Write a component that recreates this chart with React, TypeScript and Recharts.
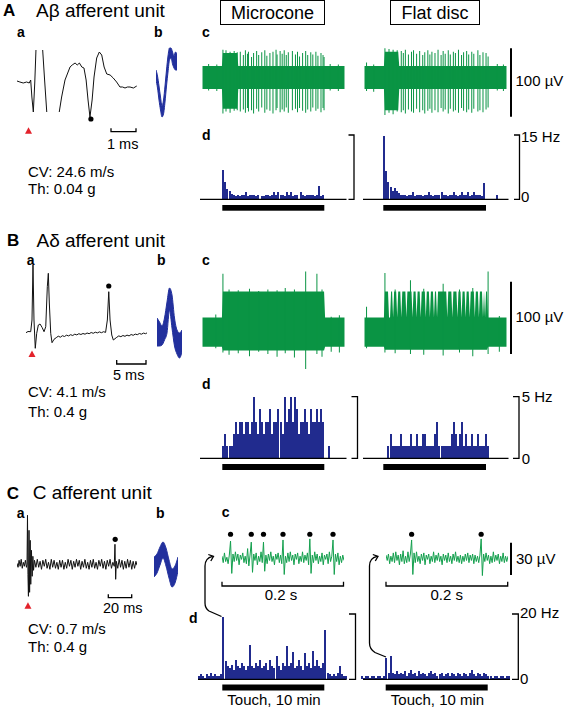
import React from 'react';
import { ComposedChart, BarChart, Bar, Line, Area, Scatter, XAxis, YAxis } from 'recharts';

const FONT = '"Liberation Sans", Arial, Helvetica, sans-serif';
const GREEN = '#0a9444';
const NAVY = '#212b8e';
const WAVE = '#22309d';
const RED = '#e3222b';
const NO_MARGIN = { top: 0, right: 0, bottom: 0, left: 0 };

// ---------- a: single evoked sweeps [time ms, amplitude a.u.]; null = trace leaves frame
const A_SWEEP: [number, number | null][] = [
  [0, 2], [0.12, 1], [0.26, 0], [0.4, 1], [0.51, 0], [0.57, 3], [0.62, -14], [0.68, -29],
  [0.74, 0], [0.79, 33], [0.85, null], [1.07, 33], [1.15, 3], [1.24, -29], [1.4, null],
  [1.76, -29], [1.86, -14], [2.0, 3], [2.21, 16], [2.3, 18], [2.42, 20], [2.51, 18], [2.6, 20],
  [2.7, 16], [2.79, 15], [2.88, 3], [2.96, -17], [3.04, -34], [3.13, -17], [3.21, 6], [3.32, 25],
  [3.43, 31], [3.53, 28], [3.63, 16], [3.74, 9], [3.88, 8], [4.01, 5], [4.15, 1], [4.29, -4],
  [4.4, -4], [4.5, -5], [4.6, -4], [4.71, -4], [4.85, -5], [4.99, -3],
];
const A_STIM: [number, number] = [0.48, -47.7];
const A_UNIT: [number, number] = [3.08, -36];

const B_SWEEP: [number, number | null][] = [
  [0, 0], [0.34, 1.2], [0.8, 1], [1.02, 12.7], [1.19, 67.7], [1.36, 12.7], [1.58, -15.6],
  [1.82, -0.6], [2.1, 7.7], [2.39, 8.7], [2.73, 5.4], [3.07, 1], [3.36, 6], [3.63, 46],
  [3.8, 59.4], [3.97, 29.7], [4.21, -0.6], [4.43, -10], [4.77, -6.6], [5.23, -4.6],
  [5.5, -3.5], [5.85, -4.5], [6.2, -3], [6.55, -3.8], [6.9, -2.5], [7.25, -3.2], [7.6, -2],
  [7.95, -2.8], [8.3, -1.5], [8.65, -2.2], [9.0, -1], [9.35, -1.8], [9.7, -0.8], [10.05, -1.5],
  [10.4, -0.3], [10.75, -1], [11.1, 0.2], [11.45, -0.6], [11.8, 0.5], [12.15, -0.2], [12.5, 0.8],
  [12.85, 0], [13.2, 1], [13.55, 0.3], [13.85, 12.7], [14.09, 41], [14.31, 12.7], [14.6, -2.3],
  [14.87, -7.3], [15.45, -4.6], [15.8, -3.2], [16.15, -4], [16.5, -2.8], [16.85, -3.6],
  [17.2, -2.4], [17.55, -3.2], [17.9, -1.8], [18.25, -2.6], [18.6, -1.4], [18.95, -2],
  [19.3, -0.8], [19.65, -1.5], [20.0, -0.4], [20.35, -1], [20.6, -0.2],
];
const B_STIM: [number, number] = [1.02, -21.3];
const B_UNIT: [number, number] = [14.09, 46.7];

const C_SWEEP: [number, number | null][] = [
  [0, 1], [0.9, -3], [1.8, 4], [2.7, -2], [3.6, 5], [4.5, -4], [5.4, 2], [6.3, -2], [7.2, 4],
  [8.1, -3], [8.6, 0], [9.0, 49], [9.4, -10], [9.8, -32], [10.3, 34], [10.8, -28], [11.3, 24],
  [11.8, -20], [12.4, 14], [13.0, -12], [13.6, 8], [14.2, -6], [15.0, 4], [16.2, -3], [17.4, 5],
  [18.6, -3], [19.8, 3], [21.0, -5], [22.2, 4], [23.4, -2], [24.6, 5], [25.8, -4], [27.0, 2],
  [28.2, -5], [29.4, 5], [30.6, -3], [31.8, 4], [33.0, -4], [34.2, 2], [35.4, -5], [36.6, 4],
  [37.8, -3], [39.0, 4], [40.2, -5], [41.4, 2], [42.6, -4], [43.8, 5], [45.0, -2], [46.2, 4],
  [47.4, -5], [48.6, 3], [49.8, -3], [51.0, 5], [52.2, -2], [53.4, 4], [54.6, -5], [55.8, 3],
  [57.0, -3], [58.2, 5], [59.4, -4], [60.6, 2], [61.8, -5], [63.0, 4], [64.2, -3], [65.4, 5],
  [66.6, -4], [67.8, 2], [69.0, -5], [70.2, 4], [71.4, -2], [72.6, 5], [73.8, -4], [75.0, 3],
  [76.2, -5], [77.4, 4], [78.6, -2], [79.8, 5], [81.0, -4], [82.2, 2], [83.4, -2], [84.0, 20],
  [84.6, -15], [85.2, 3], [86.4, -4], [87.6, 5], [88.8, -3], [90.0, 4], [91.2, -5], [92.4, 3],
  [93.6, -4], [94.8, 5], [96.0, -3], [97.2, 4], [98.4, -5], [99.6, 3], [100.8, -4], [102.0, 3],
  [102.9, -1],
];
const C_STIM: [number, number] = [9.4, -41.4];
const C_UNIT: [number, number] = [84.2, 25];

// ---------- b: overlaid unit waveforms [sample, low, high]
const A_WAVE: [number, number, number][] = [
  [0, 0, 10], [1, -8, 4], [2, -20, -6], [3, -30, -17], [4, -37, -26], [5, -34, -20], [6, -22, -6],
  [7, -6, 10], [8, 8, 24], [9, 20, 32], [10, 22, 32], [11, 16, 28], [12, 12, 24], [13, 10, 28],
  [14, 10, 26],
];
const B_WAVE: [number, number, number][] = [
  [0, -13.3, 14.7], [1, -13.3, 10.7], [2, -12.3, 6.7], [3, -7.3, 14.7], [4, -0.3, 30.7],
  [5, 22.7, 44.7], [6, 4.7, 37.7], [7, -13.3, 14.7], [8, -21.3, 2.7], [9, -25.3, -0.3],
  [10, -19.3, 2.7],
];
const C_WAVE: [number, number, number][] = [
  [0, -12.7, 7.3], [1, -8.7, 10.3], [2, -0.7, 17.3], [3, 6.3, 22.3], [4, -1.7, 16.3],
  [5, -13.7, 4.3], [6, -22.7, -4.7], [7, -18.7, -1.7], [8, -6.7, 7.3],
];

// ---------- c: raw recordings over 14 min (µV). band = [from, to, low, high], spike = [t, up, down]
const A_MICRO_BAND: [number, number, number, number][] = [[0, 2.0, -17, 17], [2.0, 3.5, -46, 36], [3.5, 14, -17, 17]];
const A_MICRO_SPIKES: [number, number, number][] = [
  [2.0, 41, -53], [2.3, 40, -50], [2.7, 38, -52], [3.1, 39, -49], [3.4, 37, -48], [3.7, 38, -50],
  [3.95, 33, -47], [4.2, 40, -52], [4.4, 35, -45], [4.55, 38, -50], [4.8, 30, -48], [5.05, 36, -53],
  [5.25, 39, -46], [5.5, 33, -50], [5.85, 37, -44], [6.1, 40, -52], [6.35, 32, -47], [6.55, 36, -49],
  [6.9, 38, -53], [7.15, 41, -48], [7.3, 34, -45], [7.55, 39, -51], [7.75, 35, -47], [8.0, 40, -50],
  [8.2, 33, -44], [8.45, 37, -52], [8.8, 39, -48], [9.05, 34, -46], [9.3, 38, -51], [9.5, 31, -45],
  [9.75, 36, -49], [10.1, 39, -52], [10.35, 33, -47], [10.6, 37, -50], [10.8, 34, -44], [11.1, 38, -49],
  [11.35, 32, -46], [11.55, 36, -51], [11.8, 33, -45], [11.95, 30, -48],
  [0.6, 20, -19], [1.4, 19, -20], [12.5, 20, -19], [13.3, 19, -20],
];
const A_FLAT_BAND: [number, number, number, number][] = [[0, 2.0, -17, 17], [2.0, 3.4, -48, 38], [3.4, 14, -17, 17]];
const A_FLAT_SPIKES: [number, number, number][] = [
  [2.0, 43, -55], [2.4, 42, -52], [2.8, 41, -54], [3.2, 40, -50], [3.6, 39, -51], [3.8, 36, -48],
  [4.0, 41, -53], [4.3, 34, -47], [4.6, 38, -50], [4.8, 40, -52], [5.1, 35, -46], [5.4, 39, -51],
  [5.7, 33, -48], [5.9, 37, -53], [6.2, 40, -49], [6.4, 34, -46], [6.6, 38, -52], [6.9, 36, -48],
  [7.2, 41, -51], [7.5, 33, -45], [7.7, 39, -50], [7.9, 35, -47], [8.2, 40, -53], [8.4, 34, -46],
  [8.7, 38, -50], [8.9, 36, -48], [9.2, 41, -52], [9.5, 33, -45], [9.7, 37, -49], [10.0, 39, -51],
  [10.2, 34, -47], [10.5, 38, -52], [10.7, 35, -46], [11.1, 40, -50], [11.3, 33, -48], [11.6, 37, -51],
  [11.9, 36, -47], [12.1, 31, -44],
  [0.2, 22, -20], [0.9, 19, -21], [13.0, 20, -19], [13.6, 19, -20],
];
const B_MICRO_BAND: [number, number, number, number][] = [[0, 2.0, -20, 21], [2.0, 12.0, -25, 57], [12.0, 14, -20, 21]];
const B_MICRO_SPIKES: [number, number, number][] = [
  [1.3, 25, -22], [2.0, 82, -28], [2.6, 60, -31], [3.5, 59, -29], [4.6, 61, -33], [5.5, 58, -27],
  [6.4, 60, -30], [7.3, 59, -34], [8.1, 62, -29], [9.0, 60, -35], [10.1, 85, -51], [11.2, 82, -30],
  [11.7, 60, -34], [12.6, 22, -27], [13.4, 24, -28],
];
const B_FLAT_BAND: [number, number, number, number][] = [[0, 2.0, -20, 21], [2.0, 12.1, -24, 57], [12.1, 14, -20, 21]];
const B_FLAT_GAPS = [2.4, 2.5, 2.8, 3.2, 3.6, 4.1, 4.7, 5.1, 5.5, 6.0, 6.4, 6.8, 7.1, 8.1, 8.6, 9.1, 9.5, 9.9, 10.3, 10.8, 11.2, 11.6, 11.8];
const B_FLAT_SPIKES: [number, number, number][] = [
  [0.2, 36, -22], [2.0, 83, -28], [3.0, 60, -29], [4.45, 73, -30], [5.8, 61, -31], [7.65, 68, -32],
  [9.3, 60, -28], [10.6, 62, -33], [12.1, 85, -30], [13.2, 23, -27],
];

// C raw traces: 0.2 s snippets (µV), one sample every 2 ms
const C_MICRO_TRACE = [
  2, -4, 5, -3, 1, -5, 3, 16, -14, 4,
  -3, 6, -2, 4, -6, 3, -1, 5, -4, 2,
  -5, 9, -7, 3, 15, -13, 4, -2, 5, -6,
  2, -3, 6, -4, 15, -12, 3, -5, 4, -2,
  6, -3, 2, -6, 4, -1, 5, -4, 3, -5,
  17, -15, 2, -4, 5, -3, 6, -2, 3, -6,
  4, -1, 5, -5, 2, -3, 6, -4, 3, -2,
  5, -6, 18, -14, 3, -4, 6, -2, 4, -5,
  2, -3, 5, -6, 3, -1, 4, -5, 6, -3,
  2, 17, -15, 4, -3, 5, -6, 2, -4, 3,
  -2,
];
const C_FLAT_TRACE = [
  3, -2, 4, -5, 2, -3, 5, -4, 6, -2,
  3, -6, 4, -3, 7, -5, 2, -4, 6, -3,
  4, 17, -15, 5, -4, 6, -3, 2, -5, 4,
  -2, 5, -6, 3, -1, 4, -5, 2, -3, 6,
  -4, 3, -2, 5, -3, 2, -6, 4, -2, 3,
  -4, 5, -3, 2, -5, 4, -2, 6, -3, 2,
  -4, 3, -5, 2, -3, 4, -2, 5, -4, 3,
  -2, 4, -5, 3, -3, 2, -4, 3, 18, -16,
  4, -3, 5, -2, 3, -5, 2, -4, 6, -3,
  3, -2, 4, -5, 2, -3, 5, -4, 2, -3,
  2,
];
const C_MICRO_MARKED = [14, 48, 68, 100, 144, 182];
const C_FLAT_MARKED = [42, 156];

// ---------- d: firing-rate histograms (Hz), 0.2 min bins
const A_MICRO_HZ = [
  0, 0, 0, 0, 0, 0, 0, 0, 0, 0,
  6.8, 4.1, 2.3, 2.0, 1.2, 1.0, 0.8, 1.0, 0.8, 1.0,
  1.0, 1.8, 0.8, 1.0, 1.0, 1.0, 0.8, 1.0, 0, 0.8,
  0.8, 1.0, 1.0, 0.8, 1.0, 1.8, 1.0, 1.8, 1.0, 1.0,
  0.8, 1.8, 1.0, 1.8, 0.8, 1.0, 1.0, 0, 1.8, 1.0,
  0.8, 1.0, 1.0, 1.0, 1.0, 0.8, 1.0, 3.1, 0.8, 1.0,
  0, 0, 0, 0, 0, 0, 0, 0, 0, 0,
];
const A_FLAT_HZ = [
  0, 0, 0, 0, 0, 0, 0, 0, 0, 0,
  14.7, 6.5, 4.1, 2.8, 2.0, 2.6, 2.0, 1.4, 1.0, 1.0,
  1.0, 0.8, 1.0, 1.0, 1.8, 0.8, 1.0, 1.0, 1.0, 0.8,
  1.0, 1.0, 1.8, 1.0, 0.8, 1.0, 1.0, 1.0, 1.8, 1.0,
  1.0, 0.8, 1.0, 1.0, 1.8, 1.0, 0.8, 1.0, 1.8, 1.0,
  1.0, 1.8, 0.8, 1.0, 1.8, 1.0, 1.0, 1.0, 0.8, 3.9,
  0, 0, 0, 0, 0, 1.0, 0, 0, 0, 0,
];
const B_MICRO_HZ = [
  0, 0, 0, 0, 0, 0, 0, 0, 0, 0,
  1, 2, 1, 1, 1, 2, 3, 2, 3, 3,
  2, 3, 3, 2, 3, 5, 3, 2, 4, 3,
  2, 3, 3, 4, 2, 3, 3, 4, 3, 2,
  5, 3, 4, 5, 3, 5, 4, 2, 3, 3,
  4, 3, 2, 4, 3, 3, 4, 3, 4, 3,
  0, 0, 1, 0, 0, 0, 0, 0, 0, 0,
];
const B_FLAT_HZ = [
  0, 0, 0, 0, 0, 0, 0, 0, 0, 0,
  0, 0, 1, 2, 1, 1, 1, 1, 2, 1,
  1, 1, 1, 2, 1, 1, 2, 1, 1, 2,
  2, 1, 1, 1, 1, 2, 3, 1, 1, 1,
  1, 1, 1, 2, 3, 2, 1, 2, 3, 1,
  2, 1, 1, 2, 1, 1, 2, 1, 1, 1,
  2, 1, 0, 0, 0, 0, 0, 0, 0, 0,
];
const C_MICRO_HZ = [
  1, 1.5, 1, 0.5, 1.5, 1, 2, 1, 1.5, 1, 1, 1.5,
  19, 5.5, 4, 3.5, 4.5, 3, 6, 4, 3.5, 5, 4, 3, 4, 10.5, 4, 3.5, 5, 4, 6, 3.5, 4, 5, 3, 6, 4, 3.5, 7, 4,
  3, 5, 4, 10.3, 4, 5, 8.5, 3.5, 4, 6, 4, 3, 8, 4, 5, 3.5, 8.8, 4, 6, 4, 3.5, 5,
  15, 2, 1.5, 1, 1.5, 1, 2, 4, 1.5, 1, 1,
];
const C_FLAT_HZ = [
  1, 0.5, 1, 1, 0.5, 1, 1, 0.5, 1, 1, 0.5, 1,
  6.4, 2, 7.1, 2, 1.5, 2.5, 1.5, 2, 1.5, 2.5, 1, 2, 3, 1.5, 2, 1, 2.5, 1.5, 2, 1.5, 1, 2, 2.5, 1.5, 2, 1,
  1.5, 2, 1, 1.5, 2, 1, 2, 1.5, 1, 2, 1.5, 1, 2, 1.5, 1, 2, 3, 1.5, 1, 2, 1.5, 1, 2, 1.5,
  1, 1, 0.5, 1, 1, 0.5, 1, 1, 0.5, 1, 1,
];

const TRACE_BIN = 0.1; // min
const TRACE_SPAN = 14; // min

function traceRows(band: [number, number, number, number][], spikes: [number, number, number][], gaps: number[] = []) {
  const n = Math.round(TRACE_SPAN / TRACE_BIN);
  const rows: any[] = [];
  for (let i = 0; i < n; i++) {
    const t = i * TRACE_BIN + 1e-6;
    const seg = band.find(([a, b]) => t >= a && t < b) ?? band[band.length - 1];
    const inGap = gaps.some((g) => Math.round(g / TRACE_BIN) === i);
    rows.push({ bin: i, band: [seg[2], inGap ? band[0][3] : seg[3]], spike: null });
  }
  spikes.forEach(([t, up, down]) => {
    const i = Math.min(n - 1, Math.round(t / TRACE_BIN));
    rows[i].spike = [down, up];
  });
  return rows;
}

function Txt({ x, base, size = 15, bold = false, center = false, children }: any) {
  return (
    <div
      style={{
        position: 'absolute',
        left: x,
        top: base - 0.8465 * size,
        fontSize: size,
        lineHeight: `${size}px`,
        fontWeight: bold ? 700 : 400,
        whiteSpace: 'nowrap',
        transform: center ? 'translateX(-50%)' : undefined,
      }}
    >
      {children}
    </div>
  );
}

const triangle = (p: any) => (
  <path d={`M${p.cx - 3.5},${p.cy + 3} L${p.cx + 3.5},${p.cy + 3} L${p.cx},${p.cy - 3.5} Z`} fill={RED} />
);
const dot = (p: any) => <circle cx={p.cx} cy={p.cy} r={2.6} fill="#000" />;

function Sweep({ points, stim, unit, left, top, width, height, xMax, yDomain }: any) {
  const data = points.map(([t, v]: any) => ({ t, v }));
  return (
    <div style={{ position: 'absolute', left, top }}>
      <ComposedChart width={width} height={height} margin={NO_MARGIN}>
        <XAxis type="number" dataKey="t" domain={[0, xMax]} hide allowDataOverflow />
        <YAxis type="number" dataKey="v" domain={yDomain} hide allowDataOverflow />
        <Line data={data} dataKey="v" stroke="#111" strokeWidth={1} dot={false} isAnimationActive={false} connectNulls={false} />
        <Scatter data={[{ t: stim[0], v: stim[1] }]} dataKey="v" shape={triangle} isAnimationActive={false} />
        <Scatter data={[{ t: unit[0], v: unit[1] }]} dataKey="v" shape={dot} isAnimationActive={false} />
      </ComposedChart>
    </div>
  );
}

function Wave({ points, left, top, width, height, yDomain }: any) {
  const data = points.map(([t, lo, hi]: any) => ({ t, range: [lo, hi] }));
  return (
    <div style={{ position: 'absolute', left, top }}>
      <ComposedChart width={width} height={height} data={data} margin={NO_MARGIN}>
        <XAxis type="number" dataKey="t" domain={[0, points.length - 1]} hide />
        <YAxis type="number" domain={yDomain} hide allowDataOverflow />
        <Area type="monotone" dataKey="range" stroke={WAVE} strokeWidth={1} fill={WAVE} fillOpacity={1} isAnimationActive={false} />
      </ComposedChart>
    </div>
  );
}

function Raw({ rows, left, top, height, yDomain }: any) {
  return (
    <div style={{ position: 'absolute', left, top }}>
      <ComposedChart width={143} height={height} data={rows} margin={NO_MARGIN} barCategoryGap={0}>
        <XAxis dataKey="bin" hide />
        <YAxis type="number" domain={yDomain} hide allowDataOverflow />
        <Area type="linear" dataKey="band" stroke="none" fill={GREEN} fillOpacity={1} isAnimationActive={false} />
        <Bar dataKey="spike" fill={GREEN} barSize={1} isAnimationActive={false} />
      </ComposedChart>
    </div>
  );
}

function Snippet({ values, marked, left, top }: any) {
  const step = 200 / (values.length - 1);
  const data = values.map((v: number, i: number) => ({ t: i * step, v }));
  const marks = marked.map((t: number) => ({ t, v: 22.3 }));
  return (
    <div style={{ position: 'absolute', left, top }}>
      <ComposedChart width={122} height={52} margin={NO_MARGIN}>
        <XAxis type="number" dataKey="t" domain={[0, 200]} hide />
        <YAxis type="number" dataKey="v" domain={[-20.1, 28.1]} hide allowDataOverflow />
        <Line data={data} dataKey="v" stroke="#14a04e" strokeWidth={1} dot={false} isAnimationActive={false} />
        <Scatter data={marks} dataKey="v" shape={dot} isAnimationActive={false} />
      </ComposedChart>
    </div>
  );
}

function Hist({ values, left, top, height, max }: any) {
  const rows = values.map((hz: number, i: number) => ({ bin: i, hz }));
  return (
    <div className="hist" style={{ position: 'absolute', left, top }}>
      <BarChart width={values.length * 2.04} height={height} data={rows} margin={NO_MARGIN} barCategoryGap={0} barGap={0}>
        <XAxis dataKey="bin" hide />
        <YAxis type="number" domain={[0, max]} hide allowDataOverflow />
        <Bar dataKey="hz" fill={NAVY} isAnimationActive={false} />
      </BarChart>
    </div>
  );
}

function Box({ left, width, children }: any) {
  return (
    <div
      style={{
        position: 'absolute',
        left,
        top: 0,
        width,
        height: 23,
        border: '1px solid #000',
        display: 'flex',
        alignItems: 'center',
        justifyContent: 'center',
        fontSize: 18,
        lineHeight: '18px',
      }}
    >
      {children}
    </div>
  );
}

export default function App() {
  return (
    <div
      style={{
        position: 'absolute',
        left: 0,
        top: 0,
        width: 567,
        height: 710,
        background: '#fff',
        fontFamily: FONT,
        color: '#000',
        overflow: 'hidden',
      }}
    >
      <style>{'.hist path { shape-rendering: crispEdges; }'}</style>

      {/* ----- A ----- */}
      <Txt x={3} base={16.7} size={17} bold>A</Txt>
      <Txt x={36} base={16.7} size={19}>Aβ afferent unit</Txt>
      <Txt x={17} base={36.7} size={14} bold>a</Txt>
      <Txt x={154} base={36.7} size={14} bold>b</Txt>
      <Txt x={202} base={36.7} size={14} bold>c</Txt>
      <Txt x={202} base={140} size={14} bold>d</Txt>
      <Box left={220} width={103}>Microcone</Box>
      <Box left={390} width={88}>Flat disc</Box>
      <Sweep points={A_SWEEP} stim={A_STIM} unit={A_UNIT} left={16.7} top={44} width={120} height={92} xMax={5} yDomain={[-53, 39]} />
      <Wave points={A_WAVE} left={155.5} top={45} width={21} height={75} yDomain={[-40, 35]} />
      <Raw rows={traceRows(A_MICRO_BAND, A_MICRO_SPIKES)} left={202} top={44} height={76} yDomain={[-62.5, 49.3]} />
      <Raw rows={traceRows(A_FLAT_BAND, A_FLAT_SPIKES)} left={363.5} top={44} height={76} yDomain={[-62.5, 49.3]} />
      <Hist values={A_MICRO_HZ} left={202} top={135} height={64.3} max={15} />
      <Hist values={A_FLAT_HZ} left={363} top={135} height={64.3} max={15} />
      <Txt x={515.5} base={86}>100 µV</Txt>
      <Txt x={521} base={141.7}>15 Hz</Txt>
      <Txt x={521} base={201.7}>0</Txt>
      <Txt x={107} base={149} size={14.5}>1 ms</Txt>
      <Txt x={28} base={176.7}>CV: 24.6 m/s</Txt>
      <Txt x={28} base={193.3}>Th: 0.04 g</Txt>

      {/* ----- B ----- */}
      <Txt x={7} base={246.7} size={17} bold>B</Txt>
      <Txt x={36.5} base={246.7} size={19}>Aδ afferent unit</Txt>
      <Txt x={26.7} base={265} size={14} bold>a</Txt>
      <Txt x={157} base={265} size={14} bold>b</Txt>
      <Txt x={202} base={265} size={14} bold>c</Txt>
      <Txt x={202} base={389} size={14} bold>d</Txt>
      <Sweep points={B_SWEEP} stim={B_STIM} unit={B_UNIT} left={26} top={262} width={121} height={96} xMax={20.6} yDomain={[-25.3, 70.7]} />
      <Wave points={B_WAVE} left={156.5} top={282} width={25} height={80} yDomain={[-29.3, 50.7]} />
      <Raw rows={traceRows(B_MICRO_BAND, B_MICRO_SPIKES)} left={202} top={266} height={106} yDomain={[-55.1, 92.7]} />
      <Raw rows={traceRows(B_FLAT_BAND, B_FLAT_SPIKES, B_FLAT_GAPS)} left={363.5} top={266} height={106} yDomain={[-55.1, 92.7]} />
      <Hist values={B_MICRO_HZ} left={202} top={396.7} height={61.6} max={5} />
      <Hist values={B_FLAT_HZ} left={363} top={396.7} height={61.6} max={5} />
      <Txt x={515.5} base={321.7}>100 µV</Txt>
      <Txt x={521.7} base={401.7}>5 Hz</Txt>
      <Txt x={521.7} base={463.5}>0</Txt>
      <Txt x={113} base={380} size={14.5}>5 ms</Txt>
      <Txt x={28} base={396.7}>CV: 4.1 m/s</Txt>
      <Txt x={28} base={416.5}>Th: 0.4 g</Txt>

      {/* ----- C ----- */}
      <Txt x={6.7} base={499} size={17} bold>C</Txt>
      <Txt x={32.7} base={499} size={19}>C afferent unit</Txt>
      <Txt x={16.7} base={518} size={14} bold>a</Txt>
      <Txt x={156} base={518} size={14} bold>b</Txt>
      <Txt x={221.7} base={517.3} size={14} bold>c</Txt>
      <Txt x={189} base={623} size={14} bold>d</Txt>
      <Sweep points={C_SWEEP} stim={C_STIM} unit={C_UNIT} left={16.7} top={510} width={120} height={100} xMax={102.9} yDomain={[-45.7, 54.3]} />
      <Wave points={C_WAVE} left={154} top={538} width={24} height={54} yDomain={[-27.7, 26.3]} />
      <Snippet values={C_MICRO_TRACE} marked={C_MICRO_MARKED} left={222} top={528} />
      <Snippet values={C_FLAT_TRACE} marked={C_FLAT_MARKED} left={386} top={528} />
      <Hist values={C_MICRO_HZ} left={197.8} top={614} height={65.3} max={20} />
      <Hist values={C_FLAT_HZ} left={361.2} top={614} height={65.3} max={20} />
      <Txt x={516} base={563.3}>30 µV</Txt>
      <Txt x={281} base={599.3} center>0.2 s</Txt>
      <Txt x={446.7} base={599.3} center>0.2 s</Txt>
      <Txt x={520} base={617.3}>20 Hz</Txt>
      <Txt x={520} base={683.3}>0</Txt>
      <Txt x={103} base={613.3} size={14.5}>20 ms</Txt>
      <Txt x={28} base={633.3}>CV: 0.7 m/s</Txt>
      <Txt x={28} base={651.7}>Th: 0.4 g</Txt>
      <Txt x={274} base={705} center>Touch, 10 min</Txt>
      <Txt x={437.5} base={705} center>Touch, 10 min</Txt>

      {/* annotations: scale bars, brackets, stimulus bars, arrows */}
      <svg width={567} height={710} style={{ position: 'absolute', left: 0, top: 0 }}>
        <g fill="none" stroke="#000" strokeWidth={1.3}>
          <path d="M111 128.3 V131.7 H136 V128.3" />
          <path d="M116.7 360 V364 H146 V360" />
          <path d="M108.3 594.3 V597.7 H131.7 V594.3" />
          <line x1={511} y1={48.3} x2={511} y2={116.7} strokeWidth={2} />
          <line x1={511} y1={281.7} x2={511} y2={354} strokeWidth={2} />
          <line x1={511} y1={542.7} x2={511} y2={575} strokeWidth={2} />
          <line x1={200} y1={199.3} x2={346.5} y2={199.3} />
          <line x1={363} y1={199.3} x2={508.5} y2={199.3} />
          <line x1={200} y1={458.3} x2={346.5} y2={458.3} />
          <line x1={363} y1={458.3} x2={508.5} y2={458.3} />
          <line x1={198} y1={679.3} x2={346.7} y2={679.3} />
          <line x1={363} y1={679.3} x2={510} y2={679.3} />
          <path d="M348.5 135 H354 V199.3 H348.5" />
          <path d="M514 135 H519.5 V199.3 H514" />
          <path d="M351.5 396.7 H357.5 V458.3 H351.5" />
          <path d="M513 396.7 H519 V458.3 H513" />
          <path d="M349 614 H355.5 V679.3 H349" />
          <path d="M512 614 H518.3 V679.3 H512" />
          <path d="M222 581.7 V586 H343.5 V581.7" />
          <path d="M386 581.7 V586 H507.7 V581.7" />
          <path d="M221.5 616.5 L209 611 Q205 608.5 205 603 L205 566 Q205 558 212.5 556.3" />
          <path d="M208.3 554.5 L213.5 556.3 L210.8 561" />
          <path d="M386 657 L375 652.5 Q369.5 649 369.5 643 L369.5 566 Q369.5 558 377 556.3" />
          <path d="M372.8 554.5 L378 556.3 L375.3 561" />
        </g>
        <g fill="#000">
          <rect x={222.3} y={205} width={102} height={5.7} />
          <rect x={383.3} y={205} width={102.7} height={5.7} />
          <rect x={222.3} y={464} width={102} height={6} />
          <rect x={383.3} y={464} width={102.7} height={6} />
          <rect x={222.3} y={684.5} width={102} height={6} />
          <rect x={385.7} y={684.5} width={102} height={6} />
        </g>
      </svg>
    </div>
  );
}
